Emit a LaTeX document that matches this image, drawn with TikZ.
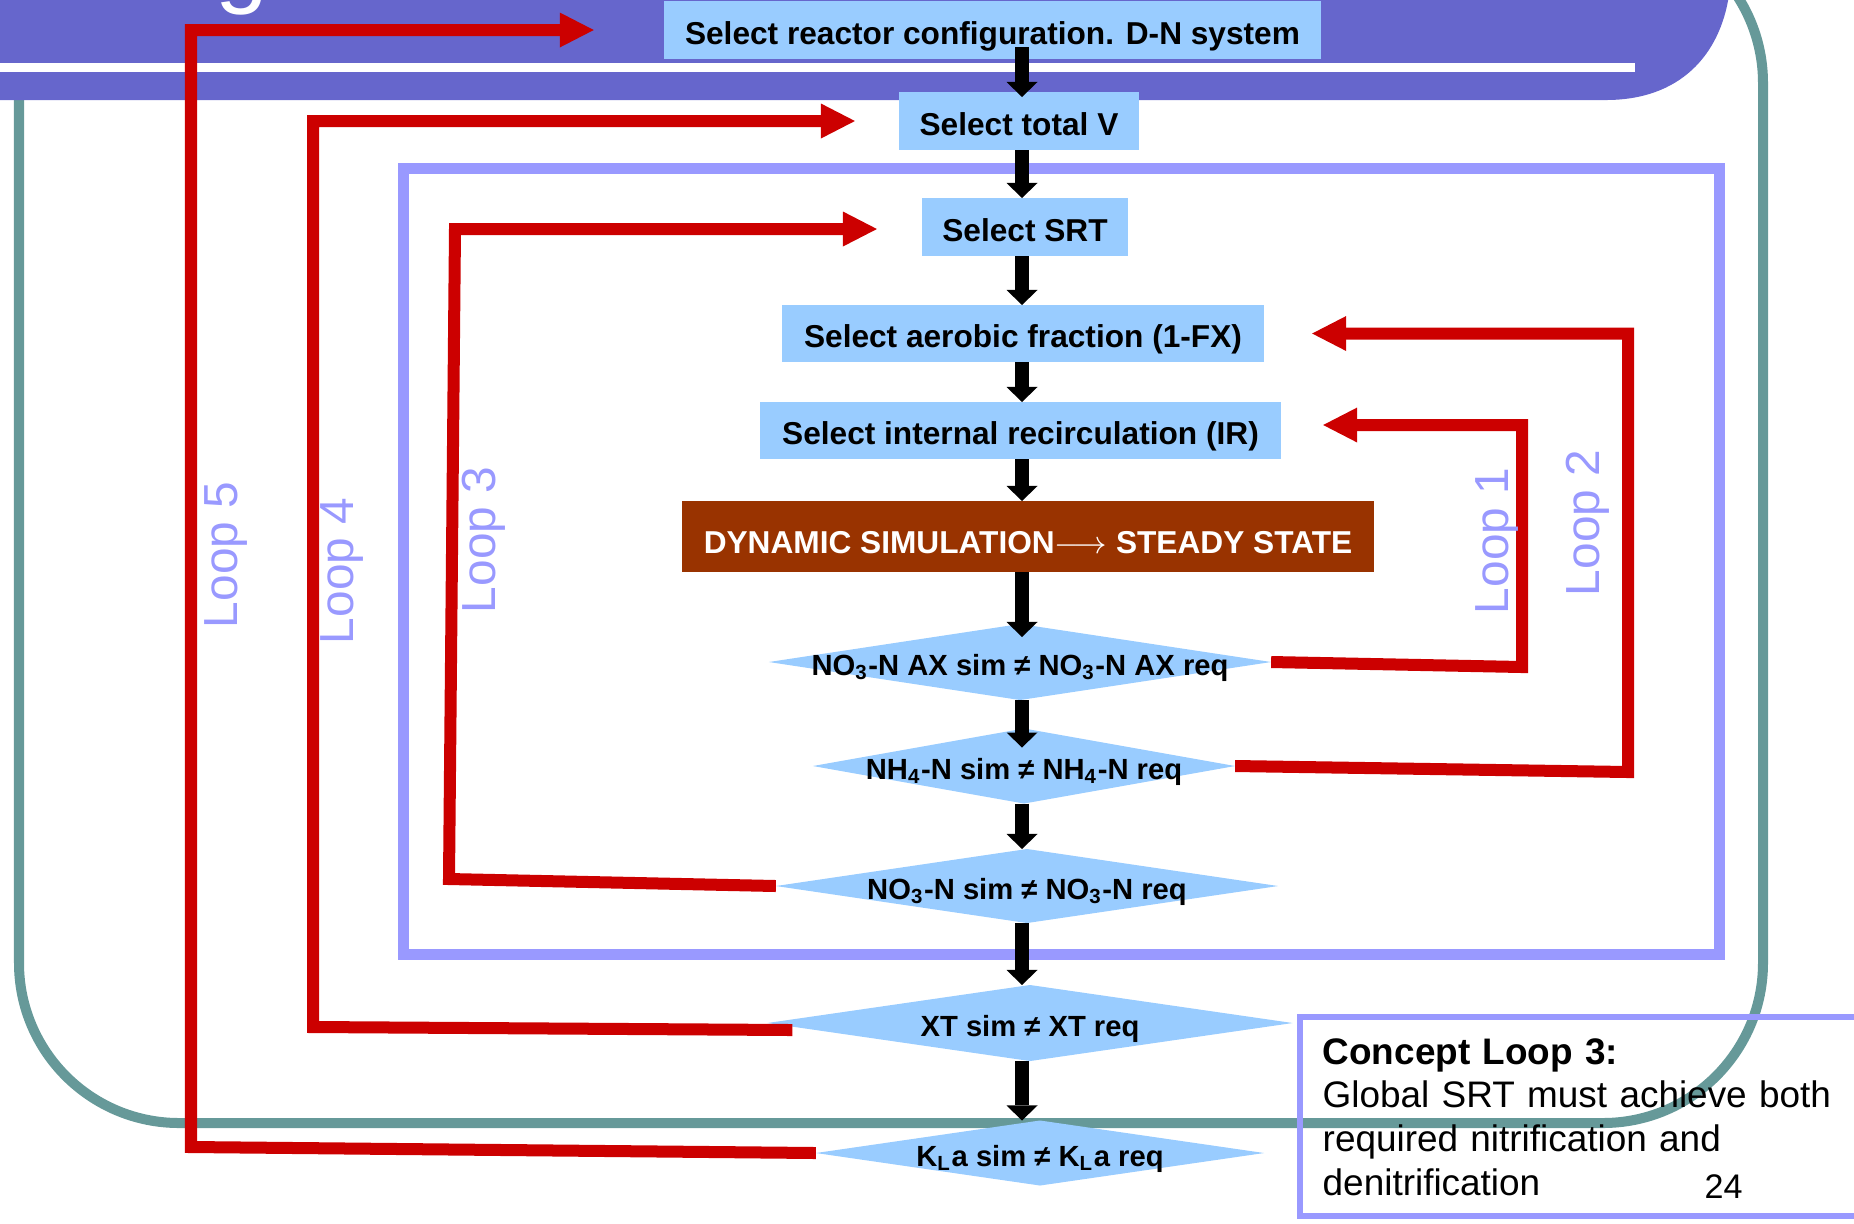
\documentclass[tikz,border=0pt]{standalone}
\usepackage{fontspec}
\setmainfont{Liberation Sans}
\usepackage{tikz}
\usetikzlibrary{arrows.meta,positioning,shapes.geometric}
\definecolor{barpurple}{HTML}{6666CC}
\definecolor{boxblue}{HTML}{99CCFF}
\definecolor{simbrown}{HTML}{993300}
\definecolor{frameteal}{HTML}{669999}
\definecolor{looplav}{HTML}{9999FF}
\definecolor{fbred}{HTML}{CC0000}

\begin{document}
\begin{tikzpicture}[x=0.01cm,y=-0.01cm,font=\fontsize{9}{11}\selectfont\bfseries,b/.style={fill=boxblue,inner sep=0pt,outer sep=0pt,text height=0.86em,text depth=0.05em},dm/.style={diamond,fill=boxblue,inner sep=0pt,outer sep=0pt,text height=0.8em,text depth=0.04em,font=\fontsize{8.3}{10}\selectfont\bfseries},a/.style={-{Triangle[length=0.15cm,width=0.31cm,line width=0pt]},line width=0.14cm,black},fb/.style={-{Triangle[length=0.34cm,width=0.35cm,line width=0pt]},line width=0.12cm,fbred},lp/.style={rotate=90,anchor=base,inner sep=0pt,text=looplav,font=\fontsize{13.6}{16}\selectfont}]
\useasboundingbox (0,0) rectangle (1854,1223);
% frame and title bar
\draw[frameteal,line width=0.1cm,rounded corners=1.6cm] (19,-77) rectangle (1763,1123);
\fill[barpurple] (0,-5) -- (1729,-5) .. controls (1720,55) and (1680,100) .. (1606,100) -- (0,100) -- cycle;
\fill[white] (0,63) rectangle (1635,72);
\node[anchor=base west,inner sep=0pt,text=white,font=\fontsize{27}{30}\selectfont] (ttl) at (215,-5) {g};
\draw[looplav,line width=0.11cm] (403,168) rectangle (1719,954);
% steps
\node[b,minimum width=6.57cm,minimum height=0.58cm] (b1) at (992.5,30) {Select reactor configuration. D-N system};
\node[b,minimum width=2.40cm,minimum height=0.58cm] (b2) at (1019,121) {Select total V};
\node[b,minimum width=2.06cm,minimum height=0.58cm] (b3) at (1025,227) {Select SRT};
\node[b,minimum width=4.82cm,minimum height=0.57cm] (b4) at (1023,333.5) {Select aerobic fraction (1-FX)};
\node[b,minimum width=5.21cm,minimum height=0.57cm] (b5) at (1020.5,430.5) {Select internal recirculation (IR)};
\node[b,fill=simbrown,text=white,text height=1.0em,text depth=0.02em,minimum width=6.92cm,minimum height=0.71cm] (b6) at (1028,536.5) {DYNAMIC SIMULATION$\longrightarrow$ STEADY STATE};
% checks
\node[dm,minimum width=5.02cm,minimum height=0.76cm] (d1) at (1020,662) {\makebox[0pt]{NO\textsubscript{3}-N AX sim ≠ NO\textsubscript{3}-N AX req}};
\node[dm,minimum width=4.22cm,minimum height=0.75cm] (d2) at (1024,766) {\makebox[0pt]{NH\textsubscript{4}-N sim ≠ NH\textsubscript{4}-N req}};
\node[dm,minimum width=5.02cm,minimum height=0.74cm] (d3) at (1027,886) {\makebox[0pt]{NO\textsubscript{3}-N sim ≠ NO\textsubscript{3}-N req}};
\node[dm,minimum width=5.25cm,minimum height=0.76cm] (d4) at (1030,1023) {\makebox[0pt]{XT sim ≠ XT req}};
\node[dm,minimum width=4.48cm,minimum height=0.65cm] (d5) at (1040,1153) {\makebox[0pt]{K\textsubscript{L}a sim ≠ K\textsubscript{L}a req}};
% main flow
\coordinate (sp) at (1022,0);
\draw[a,shorten <=-0.12cm,shorten >=-0.05cm] (b1.south -| sp) -- (b2.north -| sp);
\draw[a] (b2.south -| sp) -- (b3.north -| sp);
\draw[a] (b3.south -| sp) -- (b4.north -| sp);
\draw[a] (b4.south -| sp) -- (b5.north -| sp);
\draw[a] (b5.south -| sp) -- (b6.north -| sp);
\draw[a,shorten >=-0.13cm] (b6.south -| sp) -- (d1.north -| sp);
\draw[a,shorten >=-0.19cm] (d1.south -| sp) -- (d2.north -| sp);
\draw[a] (d2.south -| sp) -- (d3.north -| sp);
\draw[a] (d3.south -| sp) -- (d4.north -| sp);
\draw[a] (d4.south -| sp) -- (d5.north -| sp);
% loops
\draw[fb] (d1.east) -- (1522,667) |- ([xshift=0.42cm,yshift=0.055cm]b5.east);
\draw[fb] (d2.east) -- (1628,772) |- ([xshift=0.48cm]b4.east);
\draw[fb] (d3.west) -- (449,879) -- (455,229) -- ([xshift=-0.45cm,yshift=-0.02cm]b3.west);
\draw[fb] ([xshift=0.25cm,yshift=-0.07cm]d4.west) -- (313,1027) |- ([xshift=-0.44cm]b2.west);
\draw[fb] (d5.west) -- (191,1147) |- ([xshift=-0.70cm]b1.west);
\node[lp] (l1) at (1508,541) {Loop 1};
\node[lp] (l2) at (1599,523) {Loop 2};
\node[lp] (l3) at (495,540) {Loop 3};
\node[lp] (l4) at (353,571) {Loop 4};
\node[lp] (l5) at (237,555) {Loop 5};
% note
\draw[looplav,line width=0.055cm] (1300,1017) rectangle (1920,1216);
\node[anchor=base west,inner sep=0pt,text width=5.6cm,align=left,font=\fontsize{10.5}{12.5}\selectfont] (cpt) at (1322,1064) {\textbf{Concept Loop 3:}\\Global SRT must achieve both\\required nitrification and\\denitrification};
\node[anchor=base west,inner sep=0pt,font=\fontsize{9.7}{11}\selectfont] (pg) at (1704,1198) {24};
\end{tikzpicture}
\end{document}
